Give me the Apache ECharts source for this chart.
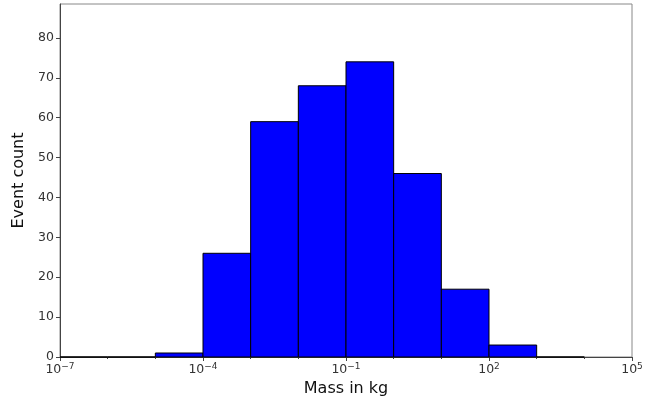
<!DOCTYPE html>
<html>
<head>
<meta charset="utf-8">
<script src="https://cdn.jsdelivr.net/npm/echarts@6/dist/echarts.min.js"></script>
<style>
  html, body { margin: 0; padding: 0; background: #fff; }
  #chart { width: 667px; height: 403px; }
</style>
</head>
<body>
<div id="chart"></div>
<script>
// bin edges as powers of ten (log10 of mass in kg)
var binLow = [-7, -6, -5, -4, -3, -2, -1, 0, 1, 2, 3];
var binHigh = [-6, -5, -4, -3, -2, -1, 0, 1, 2, 3, 4];
var counts = [0, 0, 1, 26, 59, 68, 74, 46, 17, 3, 0];
var xTicks = [-7, -4, -1, 2, 5];

var chart = echarts.init(document.getElementById("chart"));

var data = binLow.map(function (lo, i) {
  return [lo, binHigh[i], counts[i]];
});

function supLabel(v) {
  var s = String(v).replace("-", "\u2212");
  return "10{s|" + s + "}";
}

var option = {
  animation: false,
  grid: {
    left: 60,
    right: 35,
    top: 4,
    bottom: 46,
    show: true,
    borderColor: "#888",
    borderWidth: 1,
    backgroundColor: "#fff",
  },
  xAxis: {
    type: "value",
    min: -7,
    max: 5,
    interval: 3,
    name: "Mass in kg",
    nameLocation: "middle",
    nameGap: 23,
    nameTextStyle: { fontFamily: "DejaVu Sans", fontSize: 16, color: "#111" },
    axisLine: { show: true, onZero: false, lineStyle: { color: "#444" } },
    axisTick: { show: true, length: 4, lineStyle: { color: "#444" } },
    minorTick: { show: true, splitNumber: 3, length: 2, lineStyle: { color: "#444" } },
    splitLine: { show: false },
    axisLabel: {
      margin: 5,
      fontFamily: "DejaVu Sans",
      fontSize: 12.5,
      color: "#333",
      formatter: function (v) {
        return xTicks.indexOf(v) >= 0 ? supLabel(v) : "";
      },
      rich: {
        s: { fontFamily: "DejaVu Sans", fontSize: 9, color: "#333", verticalAlign: "top", padding: [0, 0, 6, 0] },
      },
    },
  },
  yAxis: {
    type: "value",
    min: 0,
    max: 88.5,
    interval: 10,
    name: "Event count",
    nameLocation: "middle",
    nameGap: 30,
    nameTextStyle: { fontFamily: "DejaVu Sans", fontSize: 16, color: "#111" },
    axisLine: { show: true, onZero: false, lineStyle: { color: "#444" } },
    axisTick: { show: true, length: 4, lineStyle: { color: "#444" } },
    splitLine: { show: false },
    axisLabel: {
      margin: 6,
      fontFamily: "DejaVu Sans",
      fontSize: 12.5,
      color: "#333",
      showMaxLabel: false,
      formatter: function (v) {
        return v > 85 ? "" : String(v);
      },
    },
  },
  series: [
    {
      type: "custom",
      data: data,
      encode: { x: [0, 1], y: 2 },
      renderItem: function (params, api) {
        var p0 = api.coord([api.value(0), 0]);
        var p1 = api.coord([api.value(1), api.value(2)]);
        return {
          type: "rect",
          shape: { x: p0[0], y: p1[1], width: p1[0] - p0[0], height: p0[1] - p1[1] },
          style: { fill: "#0000ff", stroke: "#000", lineWidth: 1 },
        };
      },
    },
  ],
};

chart.setOption(option);
</script>
</body>
</html>
